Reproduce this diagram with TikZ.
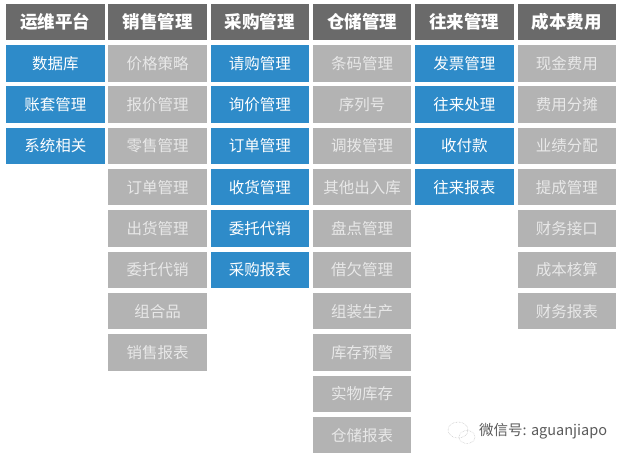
\documentclass[tikz,border=0pt]{standalone}
\usepackage{fontspec}
\setmainfont{Noto Sans CJK SC}
\newfontfamily\cjk{Noto Sans CJK SC}
\definecolor{hdrgray}{HTML}{6A6A6A}
\definecolor{boxblue}{HTML}{2E8BC9}
\definecolor{boxgray}{HTML}{B3B3B3}
\definecolor{txtgray}{HTML}{E8E8E8}
\definecolor{wmgray}{HTML}{5A5A5A}
\tikzset{
  cellbase/.style={minimum width=98.5pt, minimum height=36.5pt, inner sep=0pt, anchor=center},
  hdr/.style={cellbase, fill=hdrgray, text=white, font=\cjk\bfseries\fontsize{17.5pt}{19pt}\selectfont},
  bluebox/.style={cellbase, fill=boxblue, text=white, font=\cjk\fontsize{15.5pt}{17pt}\selectfont},
  graybox/.style={cellbase, fill=boxgray, text=txtgray, font=\cjk\fontsize{15.5pt}{17pt}\selectfont},
  wmtext/.style={text=wmgray, font=\cjk\fontsize{14.5pt}{16pt}\selectfont, inner sep=0pt, anchor=west},
  wmicon/.style={draw=gray!55, line width=0.5pt, densely dotted}
}
\newcommand\hcell[2]{\node[hdr] (c#1h) at ({6+(#1-1)*102.3+49.25},22) {#2};}
\newcommand\bcell[4]{\node[#3] (c#1r#2) at ({6+(#1-1)*102.3+49.25},{63.25+(#2-1)*41.33}) {#4};}
\begin{document}
\begin{tikzpicture}[x=1pt,y=-1pt]
\useasboundingbox (0,0) rectangle (627,459);
% headers
\hcell{1}{运维平台}
\hcell{2}{销售管理}
\hcell{3}{采购管理}
\hcell{4}{仓储管理}
\hcell{5}{往来管理}
\hcell{6}{成本费用}
% column 1
\bcell{1}{1}{bluebox}{数据库}
\bcell{1}{2}{bluebox}{账套管理}
\bcell{1}{3}{bluebox}{系统相关}
% column 2
\bcell{2}{1}{graybox}{价格策略}
\bcell{2}{2}{graybox}{报价管理}
\bcell{2}{3}{graybox}{零售管理}
\bcell{2}{4}{graybox}{订单管理}
\bcell{2}{5}{graybox}{出货管理}
\bcell{2}{6}{graybox}{委托代销}
\bcell{2}{7}{graybox}{组合品}
\bcell{2}{8}{graybox}{销售报表}
% column 3
\bcell{3}{1}{bluebox}{请购管理}
\bcell{3}{2}{bluebox}{询价管理}
\bcell{3}{3}{bluebox}{订单管理}
\bcell{3}{4}{bluebox}{收货管理}
\bcell{3}{5}{bluebox}{委托代销}
\bcell{3}{6}{bluebox}{采购报表}
% column 4
\bcell{4}{1}{graybox}{条码管理}
\bcell{4}{2}{graybox}{序列号}
\bcell{4}{3}{graybox}{调拨管理}
\bcell{4}{4}{graybox}{其他出入库}
\bcell{4}{5}{graybox}{盘点管理}
\bcell{4}{6}{graybox}{借欠管理}
\bcell{4}{7}{graybox}{组装生产}
\bcell{4}{8}{graybox}{库存预警}
\bcell{4}{9}{graybox}{实物库存}
\bcell{4}{10}{graybox}{仓储报表}
% column 5
\bcell{5}{1}{bluebox}{发票管理}
\bcell{5}{2}{bluebox}{往来处理}
\bcell{5}{3}{bluebox}{收付款}
\bcell{5}{4}{bluebox}{往来报表}
% column 6
\bcell{6}{1}{graybox}{现金费用}
\bcell{6}{2}{graybox}{费用分摊}
\bcell{6}{3}{graybox}{业绩分配}
\bcell{6}{4}{graybox}{提成管理}
\bcell{6}{5}{graybox}{财务接口}
\bcell{6}{6}{graybox}{成本核算}
\bcell{6}{7}{graybox}{财务报表}
% watermark
\draw[wmicon] (458,430) ellipse [x radius=10, y radius=8];
\draw[wmicon] (467,437) ellipse [x radius=8, y radius=6.5];
\node[wmtext] (wm) at (479,431) {微信号: aguanjiapo};
\end{tikzpicture}
\end{document}
